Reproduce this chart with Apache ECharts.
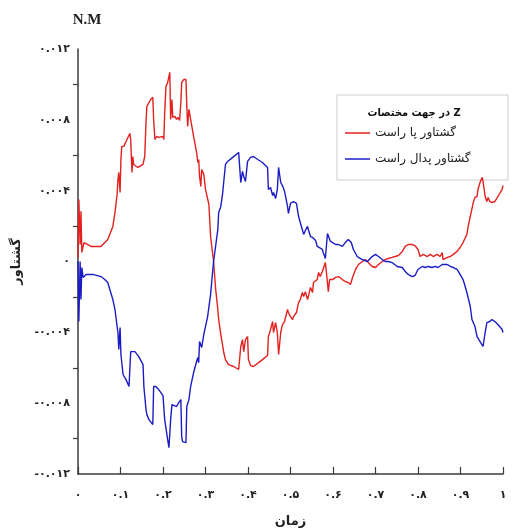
<!DOCTYPE html>
<html>
<head>
<meta charset="utf-8">
<script src="https://cdn.jsdelivr.net/npm/echarts@6/dist/echarts.min.js"></script>
<style>
  html, body { margin: 0; padding: 0; background: #fff; }
  #chart { width: 522px; height: 528px; }
</style>
</head>
<body>
<div id="chart"></div>
<script>
// Right foot torque about Z over normalised time [time, torque N.M]
const rightFootTorque = [
  [0,0.00023],[0.002,0.0035],[0.005,0.00096],[0.007,0.00283],[0.009,0.00051],[0.014,0.00107],[0.031,0.00085],[0.054,0.00085],
  [0.07,0.00124],[0.082,0.00198],[0.087,0.00277],[0.092,0.00379],[0.094,0.00463],[0.096,0.00503],[0.099,0.0039],[0.101,0.00576],
  [0.103,0.0065],[0.108,0.0065],[0.113,0.00678],[0.122,0.00723],[0.124,0.00689],[0.127,0.00503],[0.129,0.00593],[0.131,0.00548],
  [0.141,0.00531],[0.153,0.00548],[0.157,0.00593],[0.16,0.00785],[0.162,0.00876],[0.164,0.00887],[0.171,0.00915],[0.176,0.00927],
  [0.178,0.00802],[0.181,0.00689],[0.185,0.00706],[0.19,0.00701],[0.2,0.00706],[0.202,0.00689],[0.204,0.00842],[0.207,0.00989],
  [0.211,0.01011],[0.214,0.01045],[0.216,0.01068],[0.218,0.00802],[0.221,0.00915],[0.223,0.00814],[0.228,0.00819],[0.232,0.00802],
  [0.235,0.00814],[0.239,0.00797],[0.242,0.00898],[0.244,0.01011],[0.249,0.01028],[0.254,0.01028],[0.256,0.00876],[0.258,0.00763],
  [0.261,0.00859],[0.265,0.00802],[0.272,0.00706],[0.279,0.00616],[0.282,0.00559],[0.284,0.00576],[0.286,0.0048],[0.289,0.00424],
  [0.291,0.0052],[0.296,0.00492],[0.3,0.00407],[0.308,0.00322],[0.312,0.00141],[0.319,0],[0.324,-0.00158],[0.329,-0.00271],
  [0.331,-0.00328],[0.336,-0.00412],[0.343,-0.00514],[0.347,-0.00554],[0.354,-0.00582],[0.366,-0.00593],[0.378,-0.0061],[0.383,-0.0048],
  [0.387,-0.00441],[0.39,-0.00509],[0.394,-0.00441],[0.399,-0.00424],[0.401,-0.00554],[0.406,-0.00588],[0.413,-0.00593],[0.425,-0.00571],
  [0.434,-0.00554],[0.446,-0.00531],[0.448,-0.00424],[0.453,-0.00384],[0.458,-0.00339],[0.46,-0.00401],[0.465,-0.00345],[0.469,-0.00401],
  [0.472,-0.00525],[0.477,-0.00401],[0.481,-0.00356],[0.486,-0.00339],[0.493,-0.00271],[0.495,-0.00288],[0.5,-0.00311],[0.505,-0.00328],
  [0.507,-0.00311],[0.514,-0.00288],[0.519,-0.00232],[0.523,-0.00215],[0.528,-0.00175],[0.531,-0.00198],[0.535,-0.0017],[0.54,-0.00215],
  [0.542,-0.00198],[0.547,-0.00147],[0.552,-0.00175],[0.554,-0.00119],[0.563,-0.00102],[0.566,-0.00062],[0.57,-0.00085],[0.575,-0.00057],
  [0.577,-0.00062],[0.582,-0.00006],[0.587,-0.00119],[0.589,-0.0017],[0.592,-0.00102],[0.599,-0.00102],[0.606,-0.0009],[0.613,-0.00085],
  [0.622,-0.00102],[0.629,-0.00113],[0.636,-0.00119],[0.641,-0.0013],[0.646,-0.0009],[0.653,-0.00045],[0.66,-0.00017],[0.669,0],
  [0.676,0.00011],[0.683,-0.00006],[0.692,-0.00028],[0.7,-0.00034],[0.707,-0.00017],[0.716,0],[0.723,0.00011],[0.73,0.00017],
  [0.739,0.00023],[0.746,0.00028],[0.754,0.00034],[0.763,0.00057],[0.77,0.00085],[0.777,0.00096],[0.786,0.00096],[0.793,0.0009],
  [0.8,0.00068],[0.805,0.00028],[0.812,0.0004],[0.822,0.00028],[0.829,0.0004],[0.836,0.00028],[0.845,0.0004],[0.852,0.00028],
  [0.857,0.00051],[0.859,0.00011],[0.869,0.00023],[0.876,0.00028],[0.883,0.0004],[0.892,0.00057],[0.899,0.00079],[0.906,0.00107],
  [0.915,0.00153],[0.918,0.00198],[0.923,0.00254],[0.93,0.00333],[0.934,0.00362],[0.939,0.00367],[0.941,0.00407],[0.946,0.00446],
  [0.951,0.00475],[0.953,0.00452],[0.958,0.00367],[0.962,0.00339],[0.965,0.00362],[0.969,0.00339],[0.974,0.00333],[0.981,0.00339],
  [0.988,0.00367],[0.998,0.00407],[1,0.00429]
];

// Right pedal torque about Z over normalised time [time, torque N.M]
const rightPedalTorque = [
  [0,0],[0.002,-0.00339],[0.005,0],[0.007,-0.00215],[0.009,-0.00034],[0.012,-0.0009],[0.019,-0.00073],[0.035,-0.00073],
  [0.054,-0.00085],[0.063,-0.00102],[0.07,-0.00119],[0.077,-0.00175],[0.082,-0.00215],[0.087,-0.00271],[0.092,-0.00367],[0.094,-0.00401],
  [0.096,-0.00497],[0.099,-0.00373],[0.101,-0.00525],[0.106,-0.00638],[0.113,-0.00667],[0.12,-0.00706],[0.122,-0.0061],[0.124,-0.00509],
  [0.134,-0.00509],[0.143,-0.00537],[0.153,-0.00582],[0.155,-0.00706],[0.16,-0.00836],[0.162,-0.00864],[0.167,-0.00893],[0.176,-0.00921],
  [0.178,-0.00706],[0.183,-0.00706],[0.19,-0.00723],[0.2,-0.00757],[0.204,-0.00893],[0.211,-0.01006],[0.214,-0.01051],[0.216,-0.01062],
  [0.218,-0.00893],[0.221,-0.00808],[0.225,-0.00797],[0.232,-0.00819],[0.237,-0.00797],[0.242,-0.0078],[0.244,-0.00989],[0.246,-0.01017],
  [0.254,-0.01023],[0.256,-0.00819],[0.261,-0.0078],[0.265,-0.00706],[0.272,-0.00627],[0.279,-0.00565],[0.282,-0.00542],[0.284,-0.00571],
  [0.286,-0.00452],[0.291,-0.00486],[0.296,-0.00412],[0.305,-0.00311],[0.312,-0.00186],[0.319,0],[0.329,0.00181],[0.331,0.00277],
  [0.336,0.00311],[0.34,0.00379],[0.343,0.00452],[0.347,0.00548],[0.352,0.00565],[0.364,0.00588],[0.378,0.00616],[0.383,0.00446],
  [0.387,0.00509],[0.39,0.0048],[0.394,0.00452],[0.399,0.00565],[0.401,0.00576],[0.406,0.00588],[0.413,0.00593],[0.423,0.00576],
  [0.434,0.00559],[0.446,0.00531],[0.448,0.00407],[0.453,0.00418],[0.458,0.00373],[0.46,0.0039],[0.465,0.00356],[0.469,0.00407],
  [0.472,0.00531],[0.477,0.00446],[0.481,0.00429],[0.486,0.00396],[0.493,0.00311],[0.495,0.00271],[0.5,0.00328],[0.507,0.00339],
  [0.514,0.00328],[0.519,0.00254],[0.523,0.0022],[0.531,0.00153],[0.535,0.00175],[0.54,0.00198],[0.542,0.00181],[0.547,0.00141],
  [0.552,0.00136],[0.554,0.00141],[0.559,0.00119],[0.563,0.00085],[0.566,0.00079],[0.575,0.00068],[0.577,0.00051],[0.582,0.00017],
  [0.587,0.00158],[0.589,0.00147],[0.594,0.00113],[0.599,0.00107],[0.606,0.00096],[0.613,0.00096],[0.622,0.00085],[0.629,0.00107],
  [0.636,0.00124],[0.643,0.00107],[0.648,0.00068],[0.657,0.00028],[0.669,0.00011],[0.681,0],[0.692,0.00028],[0.7,0.0004],
  [0.707,0.00028],[0.716,0.00011],[0.723,0],[0.73,0],[0.739,-0.00006],[0.751,-0.00028],[0.763,-0.00034],[0.77,-0.00057],
  [0.777,-0.00073],[0.786,-0.00085],[0.793,-0.00079],[0.8,-0.00045],[0.81,-0.00028],[0.817,-0.00034],[0.824,-0.00028],[0.833,-0.00034],
  [0.84,-0.00028],[0.847,-0.00034],[0.857,-0.00017],[0.859,-0.00006],[0.869,-0.00017],[0.876,-0.00028],[0.883,-0.00034],[0.892,-0.00045],
  [0.899,-0.00073],[0.906,-0.00102],[0.911,-0.00141],[0.915,-0.00175],[0.923,-0.00254],[0.927,-0.00328],[0.934,-0.00367],[0.939,-0.00424],
  [0.946,-0.00452],[0.953,-0.0048],[0.958,-0.00401],[0.962,-0.00345],[0.965,-0.00356],[0.969,-0.00339],[0.974,-0.00328],[0.981,-0.00339],
  [0.988,-0.00356],[0.998,-0.00384],[1,-0.00401]
];

const seriesNames = ['گشتاور پا راست', 'گشتاور پدال راست'];
const seriesColors = ['#e3211f', '#1c1cc4'];
const legendTitle = 'در جهت مختصات Z';
const unitLabel = 'N.M';
const xAxisTitle = 'زمان';
const yAxisTitle = 'گشتاور';

// Western digits -> Persian digits for tick labels
const faDigits = '۰۱۲۳۴۵۶۷۸۹';
function toPersian(str) {
  return str.replace(/[0-9]/g, d => faDigits[+d]);
}

const axisColor = '#3a3a3a';
const labelFont = { color: '#222', fontSize: 11, fontWeight: 'bold', fontFamily: 'DejaVu Sans' };

const chart = echarts.init(document.getElementById('chart'), null, { renderer: 'canvas' });

chart.setOption({
  animation: false,
  backgroundColor: '#fff',
  grid: { left: 78, right: 19, top: 49, bottom: 54, containLabel: false, outerBoundsMode: 'none' },
  xAxis: {
    type: 'value',
    min: 0, max: 1, interval: 0.1,
    name: xAxisTitle,
    nameLocation: 'middle',
    nameGap: 41,
    nameTextStyle: { color: '#222', fontSize: 13, fontWeight: 'bold', fontFamily: 'DejaVu Sans' },
    axisLine: { onZero: false, lineStyle: { color: axisColor, width: 1.5 } },
    axisTick: { inside: true, length: 7, lineStyle: { color: axisColor, width: 1.2 } },
    splitLine: { show: false },
    axisLabel: Object.assign({ margin: 16, formatter: v => toPersian(String(Math.round(v * 10) / 10)) }, labelFont)
  },
  yAxis: {
    type: 'value',
    min: -0.012, max: 0.012, interval: 0.004,
    name: yAxisTitle,
    nameLocation: 'middle',
    nameGap: 55,
    nameTextStyle: { color: '#222', fontSize: 13, fontWeight: 'bold', fontFamily: 'DejaVu Sans' },
    axisLine: { onZero: false, lineStyle: { color: axisColor, width: 1.5 } },
    axisTick: { show: false },
    minorTick: { show: true, splitNumber: 2, length: 5, lineStyle: { color: axisColor, width: 1.2 } },
    splitLine: { show: false },
    minorSplitLine: { show: false },
    axisLabel: Object.assign({ margin: 8, formatter: v => toPersian(String(Math.round(v * 1000) / 1000)) }, labelFont)
  },
  legend: {
    orient: 'vertical',
    left: 345,
    top: 126,
    padding: 0,
    icon: 'rect',
    itemWidth: 25,
    itemHeight: 1.5,
    itemGap: 12,
    z: 5,
    textStyle: { color: '#222', fontSize: 12, fontFamily: 'DejaVu Sans', lineHeight: 14 },
    data: seriesNames
  },
  graphic: [
    {
      type: 'rect', z: 3,
      shape: { x: 337, y: 95, width: 171, height: 85 },
      style: { fill: '#fff', stroke: '#cfcfcf', lineWidth: 1 }
    },
    {
      type: 'text', z: 5,
      x: 414, y: 113,
      style: {
        text: legendTitle, fill: '#111',
        font: 'bold 11px "DejaVu Sans Condensed", "DejaVu Sans"',
        align: 'center', verticalAlign: 'middle'
      }
    },
    {
      type: 'text', z: 5,
      x: 87, y: 20,
      style: {
        text: unitLabel, fill: '#222',
        font: 'bold 15px "Liberation Serif"',
        align: 'center', verticalAlign: 'middle'
      }
    }
  ],
  series: [
    {
      name: seriesNames[0],
      type: 'line',
      symbol: 'none',
      showSymbol: false,
      color: seriesColors[0],
      lineStyle: { width: 1.4, color: seriesColors[0] },
      data: rightFootTorque
    },
    {
      name: seriesNames[1],
      type: 'line',
      symbol: 'none',
      showSymbol: false,
      color: seriesColors[1],
      lineStyle: { width: 1.4, color: seriesColors[1] },
      data: rightPedalTorque
    }
  ]
});
</script>
</body>
</html>
